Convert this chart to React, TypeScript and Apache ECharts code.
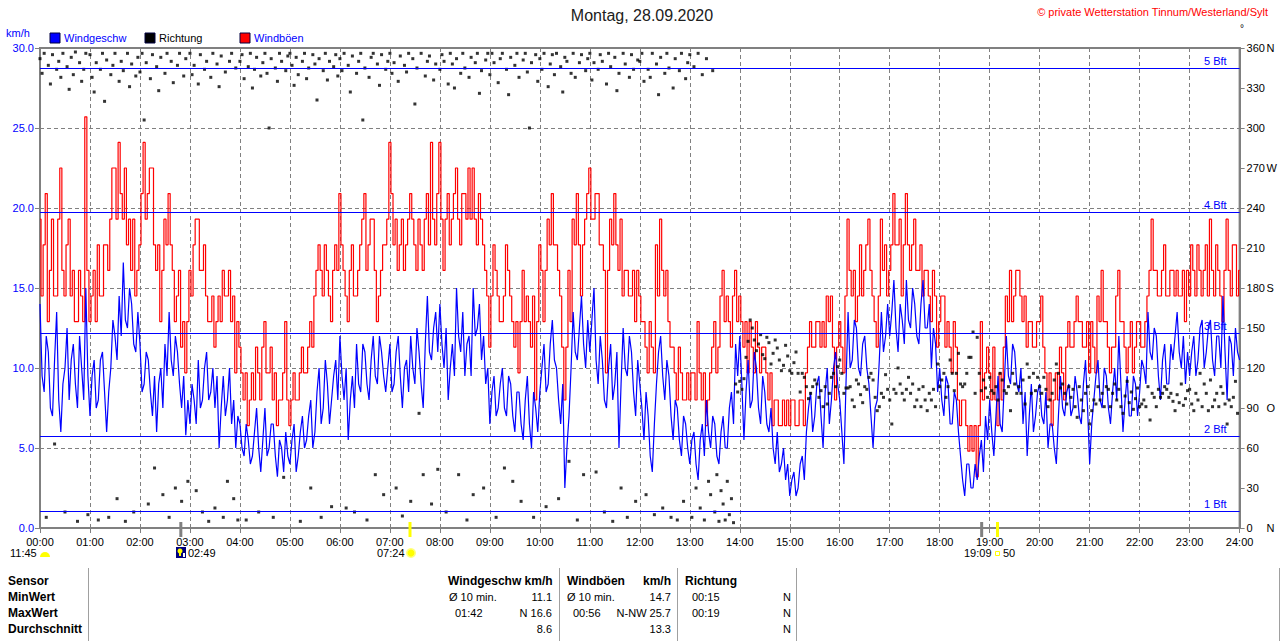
import React, { useEffect, useRef } from "react";
import * as echarts from "echarts";

// ---------- data ----------
const SPEED_STEP_MIN = 5; // minutes between the main wind speed / gust samples
const HALF_STEP_MIN = 2.5; // offset of the in-between samples
const DIR_STEP_MIN = 2.5; // minutes between direction samples

// Windgeschw (km/h), samples at 00:00, 00:05 ... 24:00
const windSpeed = [
  14.0, 8.5, 11.0, 7.0, 13.5, 6.0, 10.0, 8.0, 11.5, 7.5, 10.0, 15.0,
  7.0, 10.5, 8.0, 11.0, 6.0, 10.0, 12.0, 14.5, 16.6, 12.5, 14.0, 11.0,
  11.5, 9.0, 10.5, 7.0, 6.0, 10.0, 11.5, 13.5, 9.5, 11.0, 7.5, 5.8,
  6.5, 8.0, 10.5, 8.0, 11.0, 8.5, 7.5, 5.0, 9.5, 8.0, 6.5, 5.0,
  6.5, 4.5, 5.5, 4.5, 7.5, 3.5, 7.5, 5.0, 6.5, 3.2, 5.0, 6.0,
  4.0, 6.5, 4.5, 7.0, 5.5, 8.0, 6.0, 10.0, 7.5, 9.0, 8.0, 10.5,
  12.0, 8.0, 5.5, 9.5, 11.5, 8.5, 11.0, 8.0, 12.0, 9.0, 11.0, 8.5,
  11.5, 9.0, 12.0, 7.5, 10.5, 12.0, 9.0, 11.0, 7.5, 14.5, 10.5, 13.5,
  14.0, 10.0, 8.0, 11.5, 15.0, 11.0, 9.5, 12.0, 15.0, 12.5, 10.5, 9.0,
  6.5, 9.5, 7.5, 10.0, 7.0, 9.0, 6.0, 8.5, 5.5, 9.5, 5.0, 7.5,
  8.5, 11.5, 9.0, 13.0, 10.0, 6.5, 2.5, 7.0, 13.5, 10.5, 14.5, 10.0,
  11.0, 15.0, 9.0, 10.5, 7.5, 11.5, 9.0, 5.0, 12.5, 9.5, 11.0, 7.0,
  9.0, 5.5, 7.0, 3.5, 9.0, 12.0, 8.0, 9.5, 5.5, 7.5, 4.5, 6.5,
  4.0, 6.0, 3.0, 6.5, 8.0, 5.0, 6.5, 4.0, 7.0, 5.0, 8.5, 11.5,
  12.0, 5.5, 10.5, 8.0, 10.0, 6.5, 8.5, 6.0, 5.0, 6.0, 4.0, 3.0,
  2.0, 3.5, 2.5, 4.5, 6.0, 8.5, 7.0, 9.5, 5.0, 10.0, 8.0, 11.0,
  8.0, 4.0, 13.5, 10.5, 12.5, 9.5, 12.0, 9.0, 5.0, 8.0, 13.5, 12.0,
  12.0, 15.5, 11.0, 13.0, 15.5, 12.5, 14.0, 11.5, 15.5, 12.5, 10.0, 11.5,
  10.0, 7.0, 9.0, 6.5, 8.0, 4.5, 2.0, 4.0, 2.5, 3.0, 5.5, 7.0,
  8.0, 4.5, 9.5, 6.0, 12.0, 9.0, 11.0, 8.5, 6.5, 4.5, 9.0, 7.0,
  9.0, 6.5, 5.0, 6.5, 4.0, 9.5, 7.0, 9.0, 7.5, 8.5, 6.5, 10.5,
  4.0, 8.0, 10.5, 7.5, 9.5, 6.5, 10.0, 12.0, 6.0, 9.5, 7.0, 9.0,
  8.5, 10.0, 13.5, 10.5, 12.0, 8.0, 11.5, 9.0, 10.5, 13.5, 10.0, 9.0,
  9.5, 12.0, 10.5, 13.0, 11.0, 13.0, 9.5, 12.0, 14.5, 8.0, 11.5, 12.5,
  10.5,
];

// Windgeschw (km/h), in-between samples at 00:02.5, 00:07.5 ... 23:57.5
const windSpeedHalf = [
  9.5, 12.0, 7.5, 10.5, 8.0, 9.0, 12.5, 10.5, 9.0, 12.0, 8.0, 9.5,
  9.5, 7.5, 10.5, 8.5, 8.5, 13.0, 10.5, 12.0, 13.0, 15.0, 11.5, 13.5,
  8.5, 11.0, 8.5, 9.5, 9.0, 7.5, 9.5, 10.5, 12.0, 9.0, 9.5, 8.0,
  9.0, 6.5, 7.5, 10.0, 8.0, 10.0, 9.5, 7.5, 7.0, 10.0, 8.0, 7.0,
  5.0, 6.5, 4.0, 6.0, 5.0, 5.5, 4.5, 6.5, 4.5, 5.5, 3.5, 4.5,
  5.5, 3.5, 6.0, 5.0, 7.0, 5.0, 8.5, 6.5, 10.5, 6.5, 9.5, 8.0,
  9.5, 10.0, 8.0, 7.5, 9.0, 11.5, 9.0, 10.5, 9.5, 12.0, 9.5, 10.0,
  8.5, 11.0, 9.5, 10.0, 8.5, 10.0, 12.5, 9.0, 11.5, 11.0, 12.5, 11.0,
  11.5, 12.5, 10.0, 9.5, 12.0, 13.5, 11.5, 9.5, 12.0, 14.0, 12.0, 10.0,
  8.5, 7.0, 9.0, 7.5, 9.5, 7.0, 8.5, 6.5, 8.0, 6.5, 8.5, 6.0,
  10.0, 8.5, 11.5, 10.5, 8.0, 9.0, 5.0, 10.0, 11.0, 12.5, 11.5, 13.0,
  13.0, 10.5, 12.0, 8.0, 10.0, 8.0, 11.0, 9.0, 10.0, 12.0, 8.5, 10.5,
  7.5, 8.5, 4.5, 6.5, 11.0, 9.5, 10.5, 7.0, 8.0, 5.5, 7.0, 5.0,
  5.5, 4.0, 5.5, 4.5, 6.0, 7.0, 4.5, 6.0, 5.0, 7.5, 6.5, 9.5,
  9.0, 8.5, 7.5, 11.0, 7.5, 9.5, 6.5, 7.5, 4.0, 3.5, 5.0, 4.0,
  3.0, 2.0, 4.0, 3.0, 7.5, 6.0, 9.0, 7.0, 8.5, 6.5, 10.0, 9.0,
  6.0, 9.0, 10.0, 13.0, 10.0, 11.5, 10.0, 7.0, 7.5, 10.5, 11.0, 14.0,
  13.5, 12.5, 14.0, 11.5, 13.0, 15.0, 12.0, 14.0, 12.5, 14.0, 12.5, 8.5,
  8.0, 9.5, 6.5, 8.5, 6.0, 3.0, 4.0, 2.5, 4.0, 4.5, 3.5, 5.5,
  6.0, 7.0, 6.5, 9.0, 9.5, 11.5, 9.0, 10.0, 8.5, 7.0, 6.0, 8.5,
  7.0, 8.5, 6.5, 5.0, 7.0, 7.5, 8.5, 7.0, 9.5, 7.0, 9.0, 7.5,
  6.5, 9.5, 8.0, 10.0, 7.5, 8.5, 8.0, 9.0, 8.0, 7.0, 9.5, 7.0,
  10.5, 9.0, 11.0, 12.5, 9.5, 10.5, 9.0, 11.5, 12.0, 11.0, 12.0, 11.0,
  11.0, 9.5, 12.5, 10.0, 12.5, 10.5, 12.0, 10.0, 11.0, 12.0, 9.5, 11.0,
];

// Windböen (km/h), samples at 00:00, 00:05 ... 24:00
const windGust = [
  19.3, 17.7, 12.9, 19.3, 14.5, 22.5, 14.5, 19.3, 16.1, 12.9, 14.5, 25.7,
  12.9, 16.1, 17.7, 14.5, 17.7, 19.3, 22.5, 24.1, 19.3, 17.7, 16.1, 14.5,
  17.7, 24.1, 20.9, 22.5, 16.1, 12.9, 19.3, 20.9, 16.1, 14.5, 11.3, 9.7,
  16.1, 17.7, 19.3, 16.1, 14.5, 12.9, 11.3, 14.5, 16.1, 14.5, 12.9, 9.7,
  11.3, 8.0, 6.4, 9.7, 11.3, 8.0, 12.9, 9.7, 8.0, 6.4, 8.0, 12.9,
  6.4, 9.7, 8.0, 11.3, 9.7, 12.9, 14.5, 17.7, 14.5, 16.1, 12.9, 17.7,
  20.9, 16.1, 12.9, 17.7, 14.5, 17.7, 20.9, 17.7, 19.3, 12.9, 16.1, 17.7,
  24.1, 17.7, 16.1, 19.3, 17.7, 20.9, 17.7, 19.3, 16.1, 20.9, 24.1, 17.7,
  24.1, 16.1, 20.9, 19.3, 22.5, 17.7, 20.9, 22.5, 22.5, 17.7, 19.3, 16.1,
  11.3, 17.7, 14.5, 12.9, 17.7, 14.5, 11.3, 9.7, 16.1, 14.5, 11.3, 8.0,
  17.7, 12.9, 19.3, 20.9, 17.7, 14.5, 8.0, 16.1, 19.3, 20.9, 14.5, 19.3,
  22.5, 19.3, 20.9, 17.7, 9.7, 19.3, 20.9, 16.1, 14.5, 16.1, 14.5, 12.9,
  14.5, 12.9, 9.7, 11.3, 17.7, 19.3, 14.5, 12.9, 11.3, 8.0, 9.7, 8.0,
  8.0, 9.7, 12.9, 8.0, 6.4, 9.7, 12.9, 11.3, 16.1, 14.5, 11.3, 16.1,
  14.5, 11.3, 9.7, 11.3, 12.9, 9.7, 11.3, 8.0, 6.4, 8.0, 6.4, 6.4,
  6.4, 8.0, 6.4, 8.0, 9.7, 12.9, 11.3, 12.9, 12.9, 14.5, 14.5, 8.0,
  12.9, 9.7, 19.3, 14.5, 12.9, 17.7, 16.1, 19.3, 14.5, 11.3, 19.3, 17.7,
  16.1, 20.9, 17.7, 14.5, 20.9, 16.1, 19.3, 16.1, 14.5, 16.1, 12.9, 14.5,
  12.9, 14.5, 12.9, 9.7, 11.3, 6.4, 8.0, 4.8, 4.8, 3.2, 12.9, 9.7,
  9.7, 11.3, 6.4, 8.0, 14.5, 16.1, 14.5, 16.1, 12.9, 11.3, 12.9, 11.3,
  12.9, 11.3, 8.0, 6.4, 9.7, 11.3, 8.0, 12.9, 11.3, 14.5, 12.9, 11.3,
  9.7, 11.3, 14.5, 16.1, 12.9, 9.7, 11.3, 16.1, 12.9, 9.7, 12.9, 11.3,
  12.9, 11.3, 14.5, 19.3, 16.1, 14.5, 17.7, 14.5, 16.1, 16.1, 14.5, 12.9,
  14.5, 16.1, 17.7, 14.5, 17.7, 19.3, 14.5, 16.1, 12.9, 19.3, 14.5, 17.7,
  16.1,
];

// Windböen (km/h), in-between samples at 00:02.5, 00:07.5 ... 23:57.5
const windGustHalf = [
  14.5, 20.9, 16.1, 14.5, 19.3, 16.1, 17.7, 14.5, 12.9, 16.1, 12.9, 16.1,
  14.5, 12.9, 14.5, 17.7, 16.1, 22.5, 19.3, 20.9, 22.5, 19.3, 19.3, 16.1,
  20.9, 19.3, 22.5, 17.7, 17.7, 16.1, 17.7, 17.7, 12.9, 16.1, 12.9, 12.9,
  14.5, 19.3, 16.1, 17.7, 12.9, 14.5, 12.9, 12.9, 14.5, 16.1, 14.5, 12.9,
  9.7, 9.7, 8.0, 8.0, 9.7, 11.3, 9.7, 11.3, 9.7, 8.0, 9.7, 8.0,
  8.0, 8.0, 9.7, 9.7, 11.3, 11.3, 16.1, 16.1, 17.7, 14.5, 16.1, 16.1,
  17.7, 14.5, 16.1, 14.5, 16.1, 19.3, 16.1, 19.3, 16.1, 14.5, 17.7, 19.3,
  20.9, 19.3, 17.7, 16.1, 19.3, 19.3, 16.1, 17.7, 19.3, 17.7, 19.3, 20.9,
  19.3, 19.3, 17.7, 20.9, 19.3, 20.9, 19.3, 19.3, 19.3, 20.9, 17.7, 14.5,
  14.5, 16.1, 12.9, 14.5, 16.1, 12.9, 12.9, 12.9, 12.9, 12.9, 14.5, 12.9,
  16.1, 16.1, 17.7, 17.7, 16.1, 11.3, 11.3, 12.9, 17.7, 17.7, 17.7, 20.9,
  19.3, 20.9, 17.7, 16.1, 16.1, 17.7, 17.7, 19.3, 16.1, 14.5, 16.1, 16.1,
  12.9, 11.3, 12.9, 9.7, 14.5, 16.1, 16.1, 11.3, 9.7, 11.3, 8.0, 9.7,
  9.7, 8.0, 9.7, 9.7, 8.0, 11.3, 9.7, 14.5, 12.9, 12.9, 14.5, 12.9,
  12.9, 12.9, 12.9, 9.7, 11.3, 11.3, 9.7, 9.7, 8.0, 6.4, 8.0, 8.0,
  8.0, 6.4, 8.0, 6.4, 11.3, 11.3, 12.9, 11.3, 11.3, 12.9, 11.3, 11.3,
  11.3, 14.5, 16.1, 16.1, 14.5, 14.5, 17.7, 16.1, 12.9, 14.5, 16.1, 14.5,
  17.7, 17.7, 19.3, 17.7, 17.7, 17.7, 16.1, 17.7, 16.1, 14.5, 16.1, 11.3,
  14.5, 11.3, 11.3, 12.9, 8.0, 8.0, 6.4, 6.4, 6.4, 6.4, 8.0, 11.3,
  8.0, 8.0, 9.7, 11.3, 12.9, 12.9, 16.1, 14.5, 14.5, 12.9, 11.3, 12.9,
  14.5, 9.7, 9.7, 8.0, 8.0, 9.7, 11.3, 11.3, 12.9, 12.9, 11.3, 12.9,
  12.9, 9.7, 12.9, 12.9, 11.3, 11.3, 14.5, 12.9, 11.3, 11.3, 9.7, 12.9,
  11.3, 12.9, 16.1, 16.1, 14.5, 16.1, 14.5, 16.1, 14.5, 14.5, 16.1, 16.1,
  17.7, 14.5, 16.1, 16.1, 14.5, 16.1, 17.7, 14.5, 16.1, 16.1, 17.7, 14.5,
];

// Richtung (degrees), 2.5-minute samples 00:00 .. 23:57.5
const windDir = [
  352, 341, 356, 8, 347, 333, 355, 63, 344, 350, 338, 356, 12, 346, 329, 353, 340, 357, 5, 349, 335, 344, 356, 10,
  355, 338, 327, 349, 6, 344, 356, 320, 351, 8, 340, 347, 356, 22, 335, 350, 343, 5, 356, 331, 348, 12, 339, 353,
  342, 356, 306, 349, 18, 337, 355, 45, 346, 328, 353, 25, 341, 356, 8, 350, 334, 30, 347, 356, 20, 339, 352, 35,
  356, 340, 347, 28, 333, 355, 12, 344, 350, 5, 338, 356, 15, 348, 331, 354, 8, 342, 35, 350, 356, 22, 345, 6,
  350, 355, 337, 6, 346, 356, 330, 344, 353, 12, 339, 349, 356, 341, 300, 352, 8, 345, 335, 356, 350, 38, 343, 354,
  356, 347, 332, 353, 340, 5, 350, 356, 337, 345, 30, 355, 348, 321, 352, 8, 343, 356, 336, 350, 16, 346, 355, 339,
  352, 343, 356, 15, 347, 327, 354, 12, 341, 350, 356, 306, 345, 6, 338, 353, 356, 40, 348, 332, 355, 25, 344, 350,
  356, 341, 349, 30, 335, 354, 9, 347, 342, 356, 20, 352, 318, 345, 86, 356, 40, 339, 350, 354, 18, 336, 348, 44,
  344, 355, 350, 12, 333, 356, 348, 330, 352, 40, 341, 356, 345, 6, 338, 353, 25, 349, 356, 326, 343, 30, 351, 356,
  340, 356, 349, 8, 334, 352, 356, 45, 344, 325, 353, 35, 347, 356, 338, 20, 351, 356, 342, 300, 349, 8, 355, 335,
  352, 344, 356, 16, 331, 348, 355, 340, 356, 22, 346, 327, 353, 350, 50, 341, 356, 338, 6, 349, 355, 40, 343, 352,
  356, 336, 349, 42, 344, 355, 350, 12, 333, 356, 346, 5, 353, 328, 341, 30, 356, 348, 8, 338, 355, 344, 20, 351,
  350, 356, 335, 25, 344, 338, 356, 10, 348, 325, 353, 15, 341, 356, 345, 8, 330, 352, 6, 343, 356, 20, 337, 349,
  355, 8, 346, 30, 356, 15, 340, 6, 352, 35, 25, 343, 12, 40, 5, 28, 18, 6, 35, 10, 22, 4, 108, 102,
  110, 104, 112, 128, 140, 156, 150, 141, 133, 138, 145, 130, 127, 143, 139, 123, 131, 141, 135, 126, 118, 122, 137, 129,
  118, 116, 124, 132, 116, 102, 116, 113, 106, 97, 101, 106, 111, 108, 98, 103, 91, 106, 93, 101, 113, 116, 106, 121,
  126, 116, 101, 105, 105, 106, 96, 91, 111, 108, 100, 94, 106, 104, 113, 116, 111, 98, 88, 91, 101, 98, 115, 104,
  96, 78, 104, 101, 120, 108, 101, 96, 104, 113, 101, 108, 91, 96, 104, 91, 106, 96, 88, 101, 96, 104, 91, 123,
  106, 111, 116, 98, 106, 126, 116, 103, 116, 131, 108, 106, 108, 116, 128, 128, 147, 101, 143, 116, 103, 111, 105, 98,
  113, 103, 101, 106, 96, 116, 111, 103, 101, 106, 88, 116, 108, 101, 106, 101, 111, 93, 123, 113, 101, 116, 103, 113,
  106, 101, 113, 104, 91, 96, 101, 111, 123, 116, 105, 108, 101, 93, 106, 98, 104, 91, 83, 106, 96, 88, 101, 106,
  78, 88, 96, 93, 106, 96, 101, 91, 106, 104, 91, 101, 108, 96, 104, 91, 86, 99, 110, 94, 102, 89, 97, 105,
  91, 93, 96, 91, 106, 81, 101, 98, 91, 104, 98, 101, 106, 104, 98, 101, 95, 88, 100, 94, 108, 92, 97, 103,
  104, 93, 88, 101, 96, 116, 91, 108, 101, 88, 111, 91, 96, 101, 91, 106, 101, 93, 78, 96, 91, 98, 110, 86,
];

// Beaufort lines (km/h, as placed in the picture) and their labels
const bftValues = [1.03, 5.72, 12.16, 19.72, 28.72];
const bftNames = ["1 Bft", "2 Bft", "3 Bft", "4 Bft", "5 Bft"];

// compass letters on the direction axis
const dirLetters: Record<number, string> = { 0: "N", 90: "O", 180: "S", 270: "W", 360: "N" };

// sun / moon events under the time axis (minutes of day)
const eventTicks = [
  { min: 169, color: "#808080" }, // moon 02:49
  { min: 444, color: "#ffff00" }, // sunrise 07:24
  { min: 1130, color: "#808080" }, // moon 18:50
  { min: 1149, color: "#ffff00" }, // sunset 19:09
];

// statistics table
const tableRowLabels = ["Sensor", "MinWert", "MaxWert", "Durchschnitt"];
const speedStats = { head: "Windgeschw km/h", min: ["Ø 10 min.", "11.1"], max: ["01:42", "N 16.6"], avg: "8.6" };
const gustStats = { head: "Windböen", unit: "km/h", min: ["Ø 10 min.", "14.7"], max: ["00:56", "N-NW 25.7"], avg: "13.3" };
const dirStats = { head: "Richtung", min: ["00:15", "N"], max: ["00:19", "N"], avg: "N" };

// ---------- layout ----------
const GRID_LEFT = 40;
const GRID_TOP = 48;
const GRID_W = 1200;
const GRID_H = 480;
const FONT = '"Liberation Sans", Arial, sans-serif';
const BLUE = "#0000ff";
const GREY = "#808080";

const txt = (
  x: number,
  y: number,
  text: string,
  o: { fill?: string; size?: number; weight?: string; align?: string } = {}
) => ({
  type: "text",
  x,
  y,
  silent: true,
  z: 10,
  style: {
    text,
    fill: o.fill ?? "#000",
    font: `${o.weight ?? "normal"} ${o.size ?? 11}px ${FONT}`,
    align: o.align ?? "left",
    verticalAlign: "middle",
  },
});

const pxOfMin = (m: number) => GRID_LEFT + (m / 1440) * GRID_W;

function buildGraphic() {
  const g: any[] = [];
  g.push(txt(642, 15, "Montag, 28.09.2020", { size: 16, fill: "#202020", align: "center" }));
  g.push(txt(1268, 12, "© private Wetterstation Tinnum/Westerland/Sylt", { fill: "#ff0000", align: "right" }));
  g.push(txt(1240, 28, "°", { size: 10 }));
  g.push(txt(6, 33, "km/h", { fill: BLUE }));
  const legend = [
    { x: 50, color: BLUE, label: "Windgeschw", tc: BLUE },
    { x: 145, color: "#000000", label: "Richtung", tc: "#000" },
    { x: 240, color: "#ff0000", label: "Windböen", tc: BLUE },
  ];
  legend.forEach((l) => {
    g.push({
      type: "rect",
      silent: true,
      shape: { x: l.x, y: 33, width: 10, height: 10 },
      style: { fill: l.color, stroke: "#000040", lineWidth: 1 },
    });
    g.push(txt(l.x + 14, 38, l.label, { fill: l.tc }));
  });
  eventTicks.forEach((e) => {
    g.push({
      type: "rect",
      silent: true,
      z: 11,
      shape: { x: pxOfMin(e.min) - 1.5, y: 522, width: 3, height: 15 },
      style: { fill: e.color },
    });
  });
  g.push(txt(10, 553, "11:45"));
  g.push({
    type: "sector",
    silent: true,
    shape: { cx: 45, cy: 557, r0: 0, r: 5, startAngle: Math.PI, endAngle: Math.PI * 2 },
    style: { fill: "#ffff00" },
  });
  g.push({ type: "rect", silent: true, shape: { x: 176, y: 547, width: 10, height: 11 }, style: { fill: "#000080" } });
  g.push({ type: "circle", silent: true, shape: { cx: 180, cy: 551, r: 2.5 }, style: { fill: "#ffff00" } });
  g.push({ type: "rect", silent: true, shape: { x: 179, y: 552, width: 2, height: 4 }, style: { fill: "#ffff00" } });
  g.push({ type: "rect", silent: true, shape: { x: 183, y: 553, width: 2, height: 4 }, style: { fill: "#ffffff" } });
  g.push(txt(188, 553, "02:49"));
  g.push(txt(377, 553, "07:24"));
  g.push({ type: "circle", silent: true, shape: { cx: 411, cy: 553, r: 5 }, style: { fill: "#ffff80" } });
  g.push({ type: "circle", silent: true, shape: { cx: 411, cy: 553, r: 3.5 }, style: { fill: "#ffff00" } });
  g.push(txt(964, 553, "19:09"));
  g.push({
    type: "rect",
    silent: true,
    shape: { x: 995.5, y: 551.5, width: 4, height: 4 },
    style: { fill: "#ffffff", stroke: "#ffff00", lineWidth: 1 },
  });
  g.push(txt(1003, 553, "50"));
  const rowsY = [581, 597, 613, 629];
  tableRowLabels.forEach((l, i) => g.push(txt(8, rowsY[i], l, { weight: "bold", size: 12 })));
  [88.5, 559.5, 677.5, 796.5, 1279.5].forEach((x) =>
    g.push({
      type: "line",
      silent: true,
      shape: { x1: x, y1: 568, x2: x, y2: 641 },
      style: { stroke: "#a0a0a0", lineWidth: 1 },
    })
  );
  g.push(txt(448, rowsY[0], speedStats.head, { weight: "bold", size: 12 }));
  g.push(txt(449, rowsY[1], speedStats.min[0]));
  g.push(txt(552, rowsY[1], speedStats.min[1], { align: "right" }));
  g.push(txt(455, rowsY[2], speedStats.max[0]));
  g.push(txt(552, rowsY[2], speedStats.max[1], { align: "right" }));
  g.push(txt(552, rowsY[3], speedStats.avg, { align: "right" }));

  g.push(txt(567, rowsY[0], gustStats.head, { weight: "bold", size: 12 }));
  g.push(txt(671, rowsY[0], gustStats.unit, { weight: "bold", size: 12, align: "right" }));
  g.push(txt(567, rowsY[1], gustStats.min[0]));
  g.push(txt(671, rowsY[1], gustStats.min[1], { align: "right" }));
  g.push(txt(573, rowsY[2], gustStats.max[0]));
  g.push(txt(671, rowsY[2], gustStats.max[1], { align: "right" }));
  g.push(txt(671, rowsY[3], gustStats.avg, { align: "right" }));

  g.push(txt(685, rowsY[0], dirStats.head, { weight: "bold", size: 12 }));
  g.push(txt(692, rowsY[1], dirStats.min[0]));
  g.push(txt(783, rowsY[1], dirStats.min[1]));
  g.push(txt(692, rowsY[2], dirStats.max[0]));
  g.push(txt(783, rowsY[2], dirStats.max[1]));
  g.push(txt(783, rowsY[3], dirStats.avg));
  return g;
}

const pad2 = (n: number) => String(n).padStart(2, "0");

// interleave main samples with the in-between samples
const interleave = (main: number[], half: number[]) => {
  const out: number[][] = [];
  main.forEach((v, i) => {
    out.push([i * SPEED_STEP_MIN, v]);
    if (i < half.length) out.push([i * SPEED_STEP_MIN + HALF_STEP_MIN, half[i]]);
  });
  return out;
};

export default function App() {
  const ref = useRef<HTMLDivElement>(null);
  useEffect(() => {
    if (!ref.current) return;
    const chart = echarts.init(ref.current, null, { renderer: "svg" });
    const speedData = interleave(windSpeed, windSpeedHalf);
    const gustData = interleave(windGust, windGustHalf);
    const dirData = windDir.map((v, i) => [i * DIR_STEP_MIN, v]);
    const axisFont = { fontFamily: FONT, fontSize: 11 };
    chart.setOption({
      animation: false,
      backgroundColor: "#ffffff",
      textStyle: { fontFamily: FONT },
      grid: {
        left: GRID_LEFT,
        top: GRID_TOP,
        width: GRID_W,
        height: GRID_H,
        show: true,
        borderColor: GREY,
        borderWidth: 2,
        backgroundColor: "#ffffff",
      },
      xAxis: {
        type: "value",
        min: 0,
        max: 1440,
        interval: 60,
        axisLine: { show: true, onZero: false, lineStyle: { color: GREY, width: 2 } },
        axisTick: { show: true, length: 5, lineStyle: { color: GREY } },
        axisLabel: {
          ...axisFont,
          color: "#000",
          margin: 8,
          showMinLabel: true,
          showMaxLabel: true,
          formatter: (v: number) => `${pad2(Math.round(v / 60))}:00`,
        },
        splitLine: { show: true, lineStyle: { color: GREY, type: [4, 3], width: 1 } },
      },
      yAxis: [
        {
          type: "value",
          min: 0,
          max: 30,
          interval: 5,
          position: "left",
          axisLine: { show: true, lineStyle: { color: GREY, width: 2 } },
          axisTick: { show: true, length: 5, lineStyle: { color: GREY } },
          axisLabel: { ...axisFont, color: BLUE, margin: 6, formatter: (v: number) => v.toFixed(1) },
          splitLine: { show: true, lineStyle: { color: GREY, type: [4, 3], width: 1 } },
        },
        {
          type: "value",
          min: 0,
          max: 360,
          interval: 30,
          position: "right",
          axisLine: { show: true, lineStyle: { color: GREY, width: 2 } },
          axisTick: { show: true, length: 5, lineStyle: { color: GREY } },
          axisLabel: {
            ...axisFont,
            color: "#000",
            margin: 7,
            showMinLabel: true,
            showMaxLabel: true,
            formatter: (v: number) =>
              dirLetters[v] ? `{n|${v}}{d|${dirLetters[v]}}` : `{n|${v}}`,
            rich: {
              n: { width: 20, align: "left", fontSize: 11, fontFamily: FONT, color: "#000" },
              d: { fontSize: 11, fontFamily: FONT, color: "#000" },
            },
          },
          splitLine: { show: false },
        },
      ],
      series: [
        {
          name: "Bft",
          type: "line",
          data: [],
          z: 1,
          silent: true,
          markLine: {
            silent: true,
            symbol: ["none", "none"],
            lineStyle: { color: BLUE, width: 1, type: "solid" },
            label: {
              show: true,
              position: "insideEndTop",
              formatter: "{b}",
              color: BLUE,
              fontSize: 11,
              fontFamily: FONT,
              distance: [13, 2],
            },
            emphasis: { disabled: true },
            data: bftValues.map((v, i) => ({ yAxis: v, name: bftNames[i] })),
          },
        },
        {
          name: "Windböen",
          type: "line",
          step: "middle",
          data: gustData,
          symbol: "none",
          z: 2,
          lineStyle: { color: "#ff0000", width: 1.2 },
        },
        {
          name: "Windgeschw",
          type: "line",
          data: speedData,
          symbol: "none",
          z: 3,
          lineStyle: { color: BLUE, width: 1.2 },
        },
        {
          name: "Richtung",
          type: "scatter",
          yAxisIndex: 1,
          data: dirData,
          symbol: "rect",
          symbolSize: 3,
          z: 4,
          itemStyle: { color: "#000000" },
        },
      ],
      graphic: buildGraphic(),
    });
    return () => chart.dispose();
  }, []);
  return (
    <div
      ref={ref}
      style={{ position: "fixed", left: 0, top: 0, width: 1280, height: 641, background: "#fff" }}
    />
  );
}
